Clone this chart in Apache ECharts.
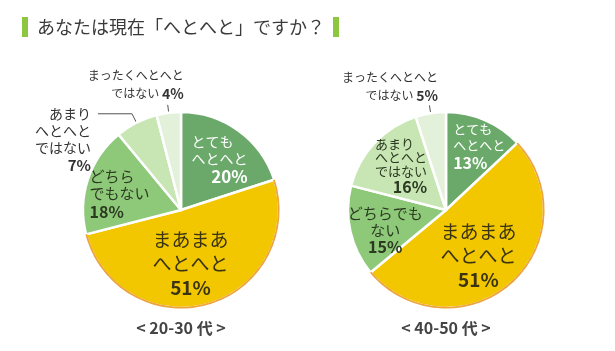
<!DOCTYPE html>
<html>
<head>
<meta charset="utf-8">
<script src="https://cdn.jsdelivr.net/npm/echarts@6/dist/echarts.min.js"></script>
<style>
	html, body { margin: 0; padding: 0; background: #fff; }
	#chart { width: 615px; height: 351px; }
</style>
</head>
<body>
<div id="chart"></div>
<script>
const titleText = 'あなたは現在「へとへと」ですか？'
const answers2030 = ['とても\nへとへと', 'まあまあ\nへとへと', 'どちら\nでもない', 'あまり\nへとへと\nではない', 'まったくへとへと\nではない']
const answers4050 = ['とても\nへとへと', 'まあまあ\nへとへと', 'どちらでも\nない', 'あまり\nへとへと\nではない', 'まったくへとへと\nではない']
const shares2030 = [20, 51, 18, 7, 4]
const shares4050 = [13, 51, 15, 16, 5]
const groupLabels = ['< 20-30 代 >', '< 40-50 代 >']

const sliceColors = ['#6ba96b', '#f2c700', '#8ec97a', '#c8e5b4', '#e4f1da']
const rimColor = '#eca43c'
const font = '"Noto Sans CJK JP", "Noto Sans", sans-serif'

// label placement tweaks, relative to where echarts puts each label
const labels2030 = [
	{ align: 'left', dx: -20, dy: -8, color: '#fff', n: 14, nl: 17, p: 17, pl: 20, pAlign: 'right' },
	{ align: 'center', dx: -5, dy: 4, color: '#3b3412', n: 19, nl: 24, p: 19, pl: 24 },
	{ align: 'left', dx: -42, dy: 1, color: '#2b3a20', n: 15, nl: 17, p: 16, pl: 19 },
	{ outside: true, len: 10, len2: 34, inward: 12, align: 'right', va: 'top', dx: -7, dy: -8.5, color: '#333', n: 14, nl: 17, p: 15, pl: 18 },
	{ outside: true, inline: true, len: 8, len2: 0, inward: 6, align: 'right', va: 'bottom', dx: 16, dy: -2, color: '#333', n: 12, nl: 18, p: 14, pl: 18 }
]
const labels4050 = [
	{ align: 'left', dx: -13.5, dy: -16, color: '#fff', n: 13, nl: 16, p: 16, pl: 18 },
	{ align: 'center', dx: -2, dy: 7, color: '#3b3412', n: 19, nl: 24, p: 19, pl: 24 },
	{ align: 'center', dx: -10, dy: 9, color: '#2b3a20', n: 15, nl: 17, p: 16, pl: 18 },
	{ align: 'left', dx: -33, dy: -7, color: '#2b3a20', n: 13, nl: 13.5, p: 16, pl: 19, pAlign: 'right' },
	{ outside: true, inline: true, len: 8, len2: 0, inward: 6, align: 'right', va: 'bottom', dx: 8.5, dy: -1, color: '#333', n: 12, nl: 18, p: 14, pl: 18 }
]

function buildLabel(s) {
	return {
		show: true,
		position: s.outside ? 'outside' : 'inside',
		formatter: s.inline ? '{n|{b} }{p|{c}%}' : '{n|{b}}\n{p|{c}%}',
		rich: {
			n: { fontFamily: font, fontSize: s.n, lineHeight: s.nl, color: s.color },
			p: { fontFamily: font, fontSize: s.p, lineHeight: s.pl, color: s.color, fontWeight: 'bold', align: s.pAlign }
		}
	}
}

function layoutLabel(params, s) {
	if (!s.outside) {
		const r = params.labelRect
		return {
			x: r.x + r.width / 2 + s.dx,
			y: r.y + r.height / 2 + s.dy,
			align: s.align,
			verticalAlign: 'middle'
		}
	}
	const pts = params.labelLinePoints
	if (!pts) return {}
	const p0 = pts[0]
	const p1 = pts[1]
	const end = pts[pts.length - 1]
	const vx = p1[0] - p0[0]
	const vy = p1[1] - p0[1]
	const d = Math.sqrt(vx * vx + vy * vy) || 1
	const start = [p0[0] - (vx / d) * s.inward, p0[1] - (vy / d) * s.inward]
	return {
		x: end[0] + s.dx,
		y: end[1] + s.dy,
		align: s.align,
		verticalAlign: s.va,
		labelLinePoints: [start, p1, end]
	}
}

function pieSeries(names, values, center, specs) {
	return [
		{
			type: 'pie',
			center: center,
			radius: 98,
			startAngle: 90,
			avoidLabelOverlap: false,
			itemStyle: { borderColor: '#fff', borderWidth: 2.5 },
			emphasis: { disabled: true },
			data: values.map((v, i) => ({
				value: v,
				name: names[i],
				itemStyle: { color: sliceColors[i] },
				label: buildLabel(specs[i]),
				labelLine: specs[i].outside
					? { show: true, length: specs[i].len, length2: specs[i].len2, lineStyle: { color: '#555', width: 1 } }
					: { show: false }
			})),
			labelLayout: (params) => layoutLabel(params, specs[params.dataIndex])
		},
		{
			// thin orange rim along the outer edge of the yellow slice
			type: 'pie',
			silent: true,
			center: center,
			radius: [96.8, 98.6],
			startAngle: 90,
			label: { show: false },
			labelLine: { show: false },
			data: values.map((v, i) => ({
				value: v,
				name: names[i],
				itemStyle: { color: i === 1 ? rimColor : 'rgba(0,0,0,0)' }
			}))
		}
	]
}

const chart = echarts.init(document.getElementById('chart'))

const option = {
	backgroundColor: '#fff',
	animation: false,
	title: [
		{
			text: '{bar| }{t|' + titleText + '}{bar| }',
			left: 22,
			top: 17,
			padding: 0,
			textStyle: {
				fontWeight: 'normal',
				rich: {
					bar: { width: 6, height: 20, backgroundColor: '#8dc63f' },
					t: { fontFamily: font, fontSize: 18, fontWeight: 'normal', color: '#3a3a3a', padding: [0, 8, 0, 9] }
				}
			}
		},
		{
			text: groupLabels[0],
			left: 181,
			top: 320,
			textAlign: 'center',
			padding: 0,
			textStyle: { fontFamily: font, fontSize: 16, fontWeight: 'bold', color: '#444' }
		},
		{
			text: groupLabels[1],
			left: 446,
			top: 320,
			textAlign: 'center',
			padding: 0,
			textStyle: { fontFamily: font, fontSize: 16, fontWeight: 'bold', color: '#444' }
		}
	],
	series: [
		...pieSeries(answers2030, shares2030, [181, 210], labels2030),
		...pieSeries(answers4050, shares4050, [446, 210], labels4050)
	]
}

chart.setOption(option)
</script>
</body>
</html>
